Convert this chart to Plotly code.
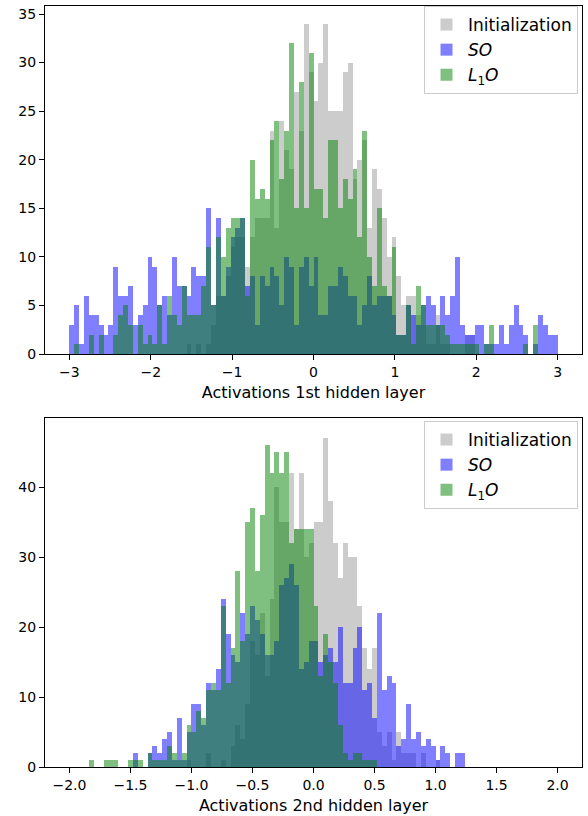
import plotly.graph_objects as go

# ---------------- data ----------------
# top panel: 100 bins from -3 to 3
top_bin_start = -3.0
top_bin_width = 0.06
top_init = [0,0,0,0,0,0,0,0,0,0,
            0,0,0,0,0,0,0,0,0,0,
            0,0,0,0,1,0,1,0,1,3,
            6,6,8,11,12,12,9,12,14,14,
            14,23,13,24,21,19,27,23,34,29,
            26,30,34,25,25,25,29,30,18,20,
            22,13,19,17,14,10,12,8,5,6,
            6,4,3,1,1,4,1,1,0,0,
            0,2,2,0,0,0,0,0,0,0,
            0,0,0,0,0,0,0,0,0,0]
top_so = [3,5,1,6,4,4,3,2,3,9,
          6,6,7,3,4,5,10,9,5,6,
          4,10,7,7,6,9,8,8,15,5,
          14,6,9,12,13,14,7,8,3,8,
          7,9,8,5,10,9,3,9,10,7,
          10,4,4,7,7,9,8,6,6,3,
          5,8,5,6,6,6,4,2,2,5,
          4,3,5,6,5,3,6,4,6,10,
          3,2,2,3,3,1,1,1,3,1,
          3,5,3,2,0,1,4,3,2,2]
top_l1o = [0,1,0,0,2,0,2,0,0,2,
           4,5,3,0,3,1,2,1,5,1,
           6,4,3,7,4,4,4,7,11,5,
           12,10,13,14,14,14,6,20,16,17,
           16,22,24,18,23,32,15,28,15,31,
           17,17,14,22,22,15,18,16,19,12,
           23,10,7,15,7,6,11,2,2,5,
           1,7,5,3,3,3,3,2,1,1,
           1,1,1,1,0,1,3,0,0,0,
           0,0,0,1,0,3,0,0,0,0]

# bottom panel: 100 bins from -2 to 2
bot_bin_start = -2.0
bot_bin_width = 0.04
bot_init = [0,0,0,0,0,0,0,0,0,0,
            0,0,0,0,0,0,0,0,0,0,
            0,0,0,0,1,0,0,0,2,0,
            0,1,0,3,6,4,9,18,16,22,
            13,24,40,35,35,42,34,42,30,32,
            35,35,47,38,32,27,32,30,30,23,
            17,14,17,5,3,5,1,5,2,2,
            2,0,2,0,0,1,0,0,0,0,
            0,0,0,0,0,0,0,0,0,0,
            0,0,0,0,0,0,0,0,0,0]
bot_so = [0,0,0,0,0,0,0,0,0,0,
          0,0,0,2,0,0,2,3,2,4,
          5,1,7,1,5,9,9,6,12,11,
          14,24,19,16,15,22,19,23,21,19,
          16,16,18,26,27,29,26,14,15,18,
          18,15,16,17,15,20,12,12,17,20,
          11,12,7,22,11,13,12,3,4,9,
          4,5,3,4,3,1,3,2,0,2,
          2,0,0,0,0,0,0,0,0,0,
          0,0,0,0,0,0,0,0,0,0]
bot_l1o = [0,0,0,0,1,0,0,1,1,1,
           0,0,1,1,1,0,2,1,1,1,
           3,2,1,2,6,5,8,7,11,12,
           11,23,12,17,28,18,35,37,28,36,
           46,42,45,42,45,32,34,34,34,34,
           23,13,19,15,12,6,2,1,2,2,
           1,1,1,0,0,0,0,0,0,0,
           0,0,0,0,0,0,0,0,0,0,
           0,0,0,0,0,0,0,0,0,0,
           0,0,0,0,0,0,0,0,0,0]

series_names = ["Initialization", "<i>SO</i>", "<i>L</i><sub>1</sub><i>O</i>"]
series_colors = ["rgba(128,128,128,0.4)", "rgba(0,0,255,0.5)", "rgba(0,128,0,0.5)"]

top_xticks = [-3, -2, -1, 0, 1, 2, 3]
top_yticks = [0, 5, 10, 15, 20, 25, 30, 35]
bot_xticks = [-2.0, -1.5, -1.0, -0.5, 0.0, 0.5, 1.0, 1.5, 2.0]
bot_yticks = [0, 10, 20, 30, 40]

# ---------------- figure ----------------
FONT = "DejaVu Sans"
fig = go.Figure()


def centers(start, width, n):
    return [start + width * (i + 0.5) for i in range(n)]


for panel, (start, width, data, xa, ya, leg) in enumerate([
        (top_bin_start, top_bin_width, [top_init, top_so, top_l1o], "x", "y", "legend"),
        (bot_bin_start, bot_bin_width, [bot_init, bot_so, bot_l1o], "x2", "y2", "legend2")]):
    for k, counts in enumerate(data):
        fig.add_trace(go.Bar(
            x=centers(start, width, len(counts)), y=counts, width=width,
            marker=dict(color=series_colors[k], line=dict(width=0)),
            name=series_names[k], xaxis=xa, yaxis=ya, legend=leg,
            legendgroup=f"{panel}-{k}", hoverinfo="x+y"))

axis_common = dict(showline=True, linecolor="black", linewidth=1, mirror=True,
                   ticks="outside", ticklen=5, tickwidth=1, tickcolor="black",
                   showgrid=False, zeroline=False,
                   tickfont=dict(family=FONT, size=14, color="black"))

top_dom = [(767 - 354) / 761, 1.0]
bot_dom = [0.0, (767 - 418) / 761]

legend_common = dict(x=1 - 4 / 537, xanchor="right", yanchor="top",
                     bgcolor="rgba(255,255,255,0.8)", bordercolor="#cccccc", borderwidth=1,
                     font=dict(family=FONT, size=17, color="black"),
                     tracegroupgap=0, itemwidth=33)

fig.update_layout(
    width=588, height=816,
    margin=dict(l=45, r=6, t=6, b=49, autoexpand=False),
    paper_bgcolor="white", plot_bgcolor="white",
    barmode="overlay", bargap=0,
    font=dict(family=FONT, size=14, color="black"),
    showlegend=True,
    xaxis=dict(domain=[0, 1], anchor="y", range=[-3.3, 3.3], tickvals=top_xticks,
               title=dict(text="Activations 1st hidden layer", standoff=8,
                          font=dict(family=FONT, size=16, color="black")), **axis_common),
    yaxis=dict(domain=top_dom, anchor="x", range=[0, 348 / 9.714], tickvals=top_yticks,
               **axis_common),
    xaxis2=dict(domain=[0, 1], anchor="y2", range=[-2.2, 2.2], tickvals=bot_xticks,
                tickformat=".1f",
                title=dict(text="Activations 2nd hidden layer", standoff=8,
                           font=dict(family=FONT, size=16, color="black")), **axis_common),
    yaxis2=dict(domain=bot_dom, anchor="x2", range=[0, 349 / 7.0], tickvals=bot_yticks,
                **axis_common),
    legend=dict(y=(767 - 6) / 761, **legend_common),
    legend2=dict(y=(767 - 421) / 761, **legend_common),
)

fig.write_html("out.html", config={"displayModeBar": False},
               post_script="document.body.style.margin='0px';")
